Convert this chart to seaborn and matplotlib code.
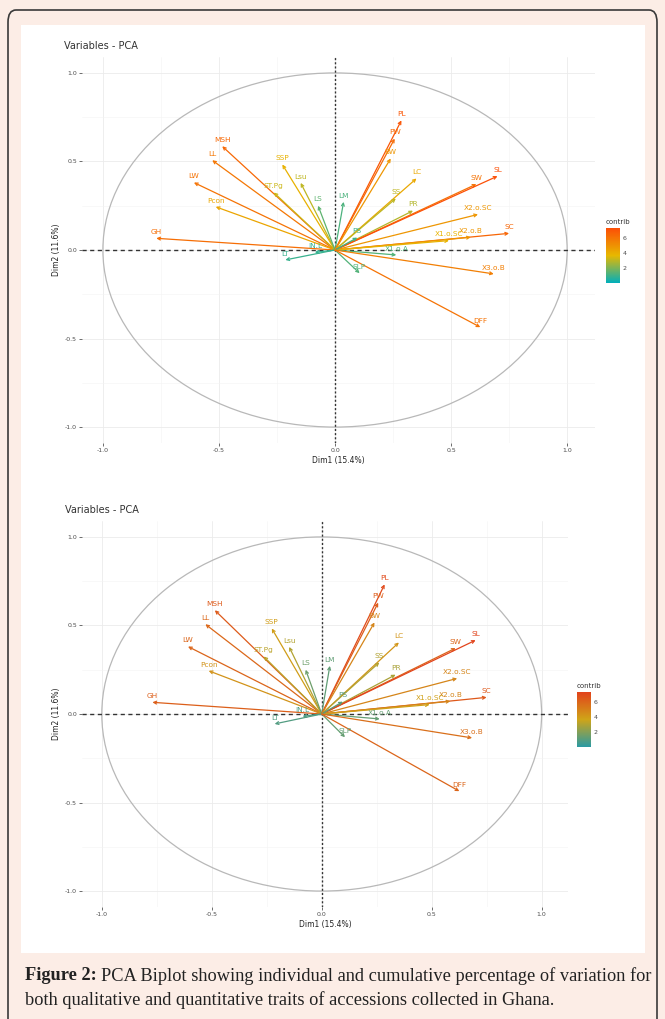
import numpy as np
import matplotlib
matplotlib.use("Agg")
import matplotlib.pyplot as plt
from matplotlib.patches import FancyBboxPatch, Rectangle, Circle
from matplotlib.cm import ScalarMappable
from matplotlib.colors import Normalize
import seaborn as sns

# variable coordinates
variables = ["GH", "MSH", "LL", "LW", "Pcon", "SSP", "ST.Pg", "Lsu", "LS", "LM",
             "IN.L", "LT", "PL", "PW", "BW", "LC", "SS", "PR", "SW", "SL",
             "X2.o.SC", "SC", "X2.o.B", "X1.o.SC", "X1.o.A", "PS", "SLP", "X3.o.B", "DFF"]
dim1 = [-0.77, -0.486, -0.529, -0.608, -0.514, -0.227, -0.264, -0.148, -0.073, 0.037,
        -0.087, -0.214, 0.286, 0.257, 0.24, 0.351, 0.262, 0.336, 0.609, 0.70,
        0.616, 0.75, 0.585, 0.491, 0.264, 0.096, 0.106, 0.684, 0.626]
dim2 = [0.066, 0.586, 0.507, 0.381, 0.244, 0.483, 0.325, 0.379, 0.25, 0.272,
        -0.013, -0.056, 0.732, 0.629, 0.517, 0.404, 0.291, 0.222, 0.372, 0.417,
        0.201, 0.094, 0.072, 0.053, -0.028, 0.07, -0.131, -0.135, -0.436]
contrib = [6.2, 6.4, 5.9, 6.0, 4.3, 3.9, 3.2, 3.0, 1.5, 1.2,
           0.8, 0.9, 7.0, 6.3, 4.8, 4.2, 3.0, 2.8, 6.0, 7.2,
           4.8, 6.5, 4.8, 3.8, 1.3, 1.0, 1.3, 5.6, 6.0]

x_label = "Dim1 (15.4%)"
y_label = "Dim2 (11.6%)"
ticks = [-1.0, -0.5, 0.0, 0.5, 1.0]

sns.set_theme(style="whitegrid")
plt.rcParams['font.family'] = ['DejaVu Sans']

W, H = 665, 1019
fig = plt.figure(figsize=(W / 100, H / 100), dpi=100)
fig.patch.set_facecolor("#fcede6")

# page frame and white panel, kept behind the axes
frame = FancyBboxPatch((8 / W, -0.05), 649 / W, 1.05 - 10 / H,
                       boxstyle="round,pad=0,rounding_size=0.012",
                       transform=fig.transFigure, fc="#fcede6", ec="#3a3a3a",
                       lw=1.2, zorder=-10)
fig.patches.append(frame)
fig.patches.append(Rectangle((21 / W, 1 - 953 / H), 624 / W, 928 / H,
                             transform=fig.transFigure, fc="white", ec="none",
                             zorder=-9))

cmap_top = sns.blend_palette(["#00AFBB", "#E7B800", "#FC4E07"], as_cmap=True)
cmap_bot = sns.blend_palette(["#2a9aa3", "#cfa418", "#e2421b"], as_cmap=True)
norm = Normalize(0, 7.3)


def px_axes(left, top, width, height):
    return fig.add_axes([left / W, 1 - (top + height) / H, width / W, height / H])


def biplot(ax, cmap, cax):
    ax.set_facecolor("white")
    ax.set_xlim(-1.09, 1.12)
    ax.set_ylim(-1.09, 1.09)
    ax.set_xticks(ticks)
    ax.set_yticks(ticks)
    ax.set_xticks([-0.75, -0.25, 0.25, 0.75], minor=True)
    ax.set_yticks([-0.75, -0.25, 0.25, 0.75], minor=True)
    ax.grid(which="major", color="#ebebeb", lw=0.6)
    ax.grid(which="minor", color="#f3f3f3", lw=0.4)
    for s in ax.spines.values():
        s.set_visible(False)
    ax.tick_params(which="major", length=2, width=0.5, color="#333333",
                   labelsize=4.5, labelcolor="#4d4d4d", pad=1.5,
                   left=True, bottom=True)
    ax.tick_params(which="minor", length=0)
    ax.xaxis.set_major_formatter(matplotlib.ticker.FormatStrFormatter("%.1f"))
    ax.yaxis.set_major_formatter(matplotlib.ticker.FormatStrFormatter("%.1f"))

    ax.add_patch(Circle((0, 0), 1, fill=False, ec="#b8b8b8", lw=0.9, zorder=1))
    ax.axhline(0, color="#333333", lw=1.0, ls=(0, (3, 2.5)), zorder=2)
    ax.axvline(0, color="#333333", lw=1.0, ls=(0, (1.5, 1.5)), zorder=2)

    for name, x, y, c in zip(variables, dim1, dim2, contrib):
        col = cmap(norm(c))
        ax.annotate("", xy=(x, y), xytext=(0, 0),
                    arrowprops=dict(arrowstyle="->", color=col, lw=0.9,
                                    shrinkA=0, shrinkB=0, mutation_scale=5),
                    zorder=3)
        ax.annotate(name, xy=(x, y), xytext=(0, 4.5), textcoords="offset points",
                    ha="center", va="center", fontsize=5.3, color=col, zorder=4)

    ax.set_xlabel(x_label, fontsize=5.5, color="#222222", labelpad=2)
    ax.set_ylabel(y_label, fontsize=5.5, color="#222222", labelpad=3)
    ax.set_title("Variables - PCA", fontsize=7, color="#333333", loc="left",
                 x=-0.035, pad=6)

    cb = fig.colorbar(ScalarMappable(norm=norm, cmap=cmap), cax=cax)
    cb.outline.set_visible(False)
    cb.set_ticks([2, 4, 6])
    cax.tick_params(length=3, width=0.6, color="white", direction="in",
                    labelsize=4.5, labelcolor="#4d4d4d", pad=2)
    cax.set_title("contrib", fontsize=5, color="#333333", loc="left", pad=3)


ax1 = px_axes(82, 57, 513, 386)
cax1 = px_axes(606, 228, 14, 55)
biplot(ax1, cmap_top, cax1)

ax2 = px_axes(82, 521, 486, 386)
cax2 = px_axes(577, 692, 14, 55)
biplot(ax2, cmap_bot, cax2)

# caption
serif = ['Liberation Serif', 'DejaVu Serif']
bold = fig.text(25 / W, 1 - 976 / H, "Figure 2:", fontsize=13.2, fontweight="bold",
                family=serif, va="center", color="#222222")
renderer = fig.canvas.get_renderer()
bx = bold.get_window_extent(renderer).x1
fig.text((bx + 4) / W, 1 - 976 / H,
         "PCA Biplot showing individual and cumulative percentage of variation for",
         fontsize=13.2, family=serif, va="center", color="#222222")
fig.text(25 / W, 1 - 1000 / H,
         "both qualitative and quantitative traits of accessions collected in Ghana.",
         fontsize=13.2, family=serif, va="center", color="#222222")

fig.savefig("out.png", dpi=100, facecolor=fig.get_facecolor())
